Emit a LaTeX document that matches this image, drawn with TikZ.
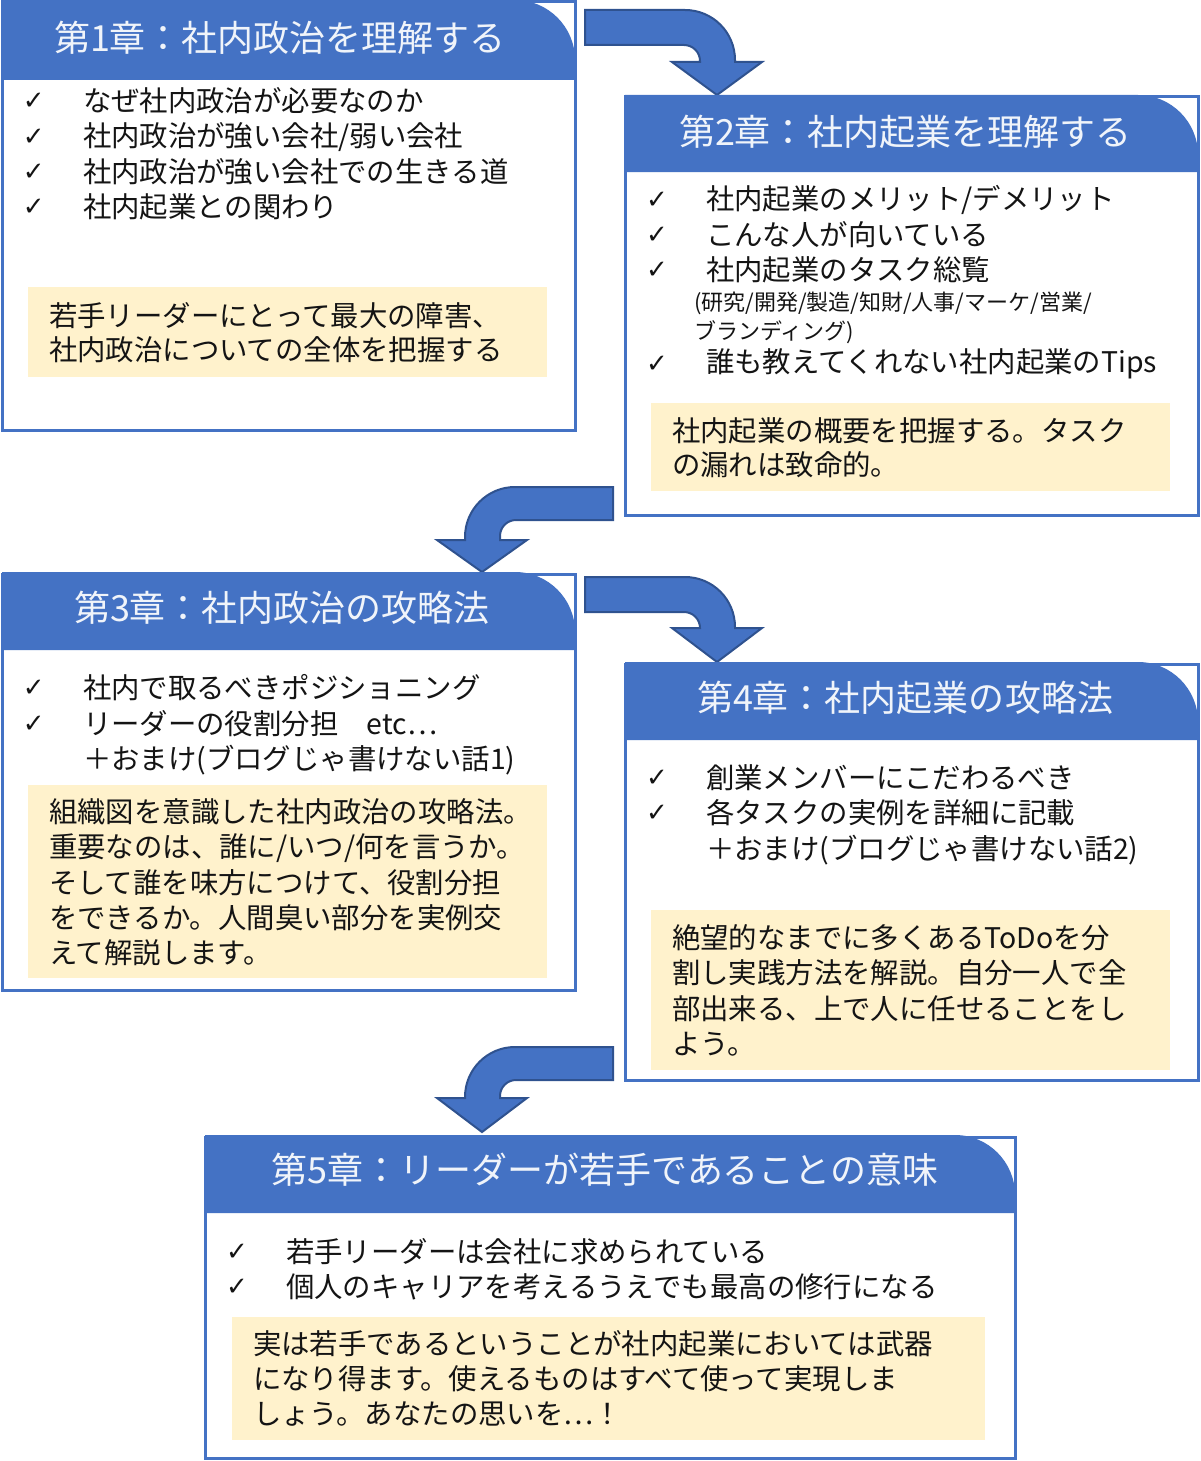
\documentclass[tikz,border=0pt]{standalone}
\usepackage{fontspec}
\setmainfont{Noto Sans CJK JP}
\newfontfamily\symfont{DejaVu Sans}
\definecolor{hdblue}{RGB}{68,114,196}
\definecolor{hdline}{RGB}{47,82,143}
\definecolor{notefill}{RGB}{255,242,204}
\definecolor{txt}{RGB}{20,20,20}
\tikzset{every picture/.style={line width=1pt},
  boxline/.style={draw=hdblue,line width=1.5pt,fill=white},
  header/.style={fill=hdblue},
  titletext/.style={anchor=center,inner sep=0pt,text=white!92!hdblue,font=\fontsize{18}{22}\selectfont},
  bodytext/.style={anchor=west,inner sep=0pt,text=txt,font=\fontsize{14.2}{17}\selectfont},
  smalltext/.style={anchor=west,inner sep=0pt,text=txt,font=\fontsize{11}{13}\selectfont},
  checkmark/.style={anchor=west,inner sep=0pt,text=txt,font=\symfont\fontsize{13}{15}\selectfont},
  note/.style={fill=notefill},
  bentarrow/.style={fill=hdblue,draw=hdline,line width=1pt}}

\begin{document}
\begin{tikzpicture}[x=0.5pt,y=0.5pt,yscale=-1,xscale=1]
\useasboundingbox (0,0) rectangle (1200,1461);

%Chapter 1
\draw[boxline] (2,2) rectangle (575,430);
\fill[header] (2,80) -- (2,0) [rounded corners=30] -- (575,0) [sharp corners] -- (575,80) -- cycle;
\node[titletext] (t1) at (280,38) {第1章：社内政治を理解する};
\node[checkmark] (c11) at (22,101) {✓};
\node[bodytext] (l11) at (82,101) {なぜ社内政治が必要なのか};
\node[checkmark] (c12) at (22,137) {✓};
\node[bodytext] (l12) at (82,137) {社内政治が強い会社/弱い会社};
\node[checkmark] (c13) at (22,172) {✓};
\node[bodytext] (l13) at (82,172) {社内政治が強い会社での生きる道};
\node[checkmark] (c14) at (22,207) {✓};
\node[bodytext] (l14) at (82,207) {社内起業との関わり};
\fill[note] (28,287) rectangle (547,377);
\node[bodytext] (n11) at (48,316) {若手リーダーにとって最大の障害、};
\node[bodytext] (n12) at (48,350) {社内政治についての全体を把握する};

%Arrow 1 to 2
\draw[bentarrow] (585,10) [rounded corners=25] -- (735,10) [sharp corners] -- (735,62) -- (762,62) -- (717,95) -- (672,62) -- (700,62) [rounded corners=8] -- (700,45) [sharp corners] -- (585,45) -- cycle;

%Chapter 2
\draw[boxline] (625,97) rectangle (1198,515);
\fill[header] (625,172) -- (625,95) [rounded corners=30] -- (1198,95) [sharp corners] -- (1198,172) -- cycle;
\node[titletext] (t2) at (905,132) {第2章：社内起業を理解する};
\node[checkmark] (c21) at (645,200) {✓};
\node[bodytext] (l21) at (705,200) {社内起業のメリット/デメリット};
\node[checkmark] (c22) at (645,235) {✓};
\node[bodytext] (l22) at (705,235) {こんな人が向いている};
\node[checkmark] (c23) at (645,270) {✓};
\node[bodytext] (l23) at (705,270) {社内起業のタスク総覧};
\node[smalltext] (s21) at (693,303) {(研究/開発/製造/知財/人事/マーケ/営業/};
\node[smalltext] (s22) at (693,332) {ブランディング)};
\node[checkmark] (c24) at (645,364) {✓};
\node[bodytext] (l24) at (705,364) {誰も教えてくれない社内起業のTips};
\fill[note] (651,403) rectangle (1170,491);
\node[bodytext] (n21) at (671,431) {社内起業の概要を把握する。タスク};
\node[bodytext] (n22) at (671,465) {の漏れは致命的。};

%Arrow 2 to 3
\draw[bentarrow] (613,487) [rounded corners=25] -- (465,487) [sharp corners] -- (465,540) -- (437,540) -- (482,572) -- (527,540) -- (500,540) [rounded corners=8] -- (500,520) [sharp corners] -- (613,520) -- cycle;

%Chapter 3
\draw[boxline] (2,574) rectangle (575,990);
\fill[header] (2,650) -- (2,572) [rounded corners=30] -- (575,572) [sharp corners] -- (575,650) -- cycle;
\node[titletext] (t3) at (282,608) {第3章：社内政治の攻略法};
\node[checkmark] (c31) at (22,688) {✓};
\node[bodytext] (l31) at (82,688) {社内で取るべきポジショニング};
\node[checkmark] (c32) at (22,724) {✓};
\node[bodytext] (l32) at (82,724) {リーダーの役割分担\quad etc…};
\node[bodytext] (l33) at (82,760) {＋おまけ(ブログじゃ書けない話1)};
\fill[note] (28,785) rectangle (547,978);
\node[bodytext] (n31) at (48,812) {組織図を意識した社内政治の攻略法。};
\node[bodytext] (n32) at (48,848) {重要なのは、誰に/いつ/何を言うか。};
\node[bodytext] (n33) at (48,883) {そして誰を味方につけて、役割分担};
\node[bodytext] (n34) at (48,918) {をできるか。人間臭い部分を実例交};
\node[bodytext] (n35) at (48,953) {えて解説します。};

%Arrow 3 to 4
\draw[bentarrow] (585,577) [rounded corners=25] -- (735,577) [sharp corners] -- (735,628) -- (762,628) -- (717,662) -- (672,628) -- (700,628) [rounded corners=8] -- (700,612) [sharp corners] -- (585,612) -- cycle;

%Chapter 4
\draw[boxline] (625,664) rectangle (1198,1080);
\fill[header] (625,740) -- (625,662) [rounded corners=30] -- (1198,662) [sharp corners] -- (1198,740) -- cycle;
\node[titletext] (t4) at (905,698) {第4章：社内起業の攻略法};
\node[checkmark] (c41) at (645,778) {✓};
\node[bodytext] (l41) at (705,778) {創業メンバーにこだわるべき};
\node[checkmark] (c42) at (645,813) {✓};
\node[bodytext] (l42) at (705,813) {各タスクの実例を詳細に記載};
\node[bodytext] (l43) at (705,850) {＋おまけ(ブログじゃ書けない話2)};
\fill[note] (651,910) rectangle (1170,1070);
\node[bodytext] (n41) at (671,938) {絶望的なまでに多くあるToDoを分};
\node[bodytext] (n42) at (671,973) {割し実践方法を解説。自分一人で全};
\node[bodytext] (n43) at (671,1009) {部出来る、上で人に任せることをし};
\node[bodytext] (n44) at (671,1044) {よう。};

%Arrow 4 to 5
\draw[bentarrow] (613,1047) [rounded corners=25] -- (465,1047) [sharp corners] -- (465,1098) -- (437,1098) -- (482,1132) -- (527,1098) -- (500,1098) [rounded corners=8] -- (500,1080) [sharp corners] -- (613,1080) -- cycle;

%Chapter 5
\draw[boxline] (205,1137) rectangle (1015,1458);
\fill[header] (205,1213) -- (205,1135) [rounded corners=30] -- (1015,1135) [sharp corners] -- (1015,1213) -- cycle;
\node[titletext] (t5) at (605,1170) {第5章：リーダーが若手であることの意味};
\node[checkmark] (c51) at (225,1252) {✓};
\node[bodytext] (l51) at (285,1252) {若手リーダーは会社に求められている};
\node[checkmark] (c52) at (225,1287) {✓};
\node[bodytext] (l52) at (285,1287) {個人のキャリアを考えるうえでも最高の修行になる};
\fill[note] (232,1317) rectangle (985,1440);
\node[bodytext] (n51) at (252,1344) {実は若手であるということが社内起業においては武器};
\node[bodytext] (n52) at (252,1379) {になり得ます。使えるものはすべて使って実現しま};
\node[bodytext] (n53) at (252,1414) {しょう。あなたの思いを…！};

\end{tikzpicture}
\end{document}
